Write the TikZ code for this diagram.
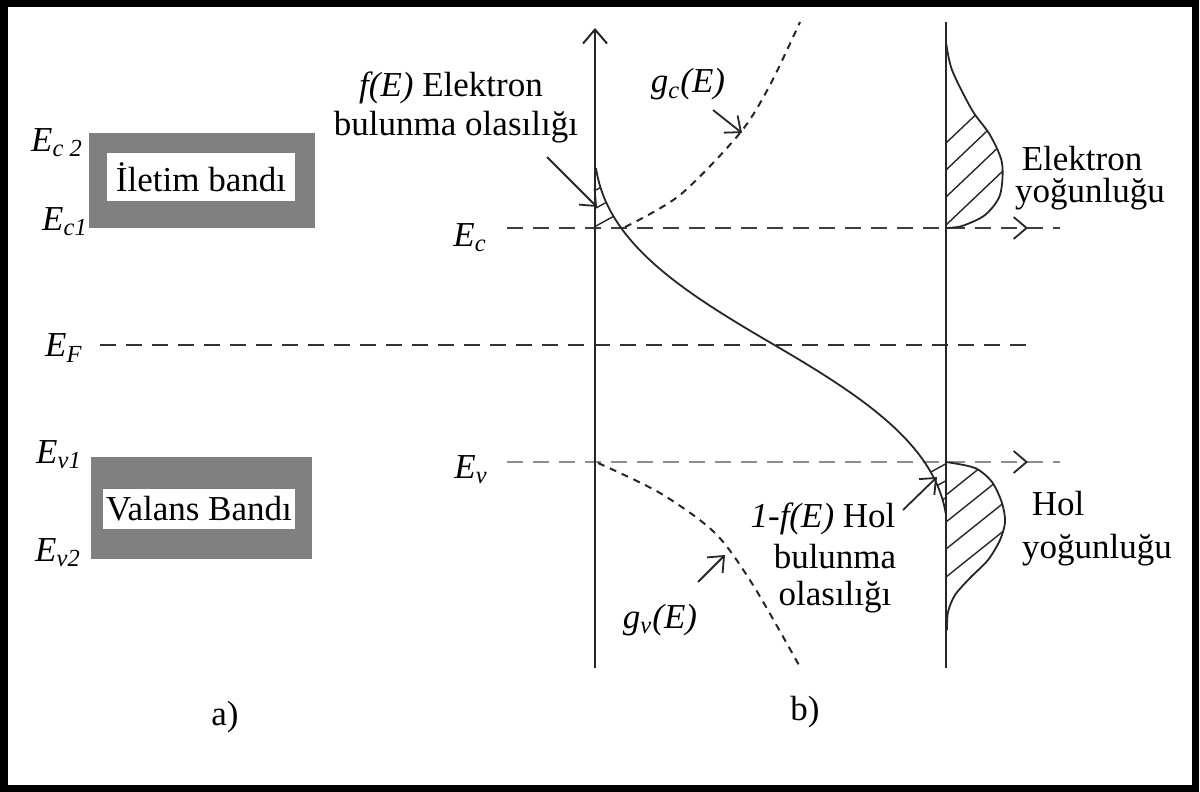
\documentclass[tikz,border=0pt]{standalone}
\usepackage{fontspec}
\setmainfont{Liberation Serif}
\usetikzlibrary{arrows.meta}
\definecolor{boxgray}{HTML}{808080}
\begin{document}
\begin{tikzpicture}[x=0.5pt,y=-0.5pt,
  lbl/.style={font=\fontsize{17.5}{19}\selectfont, inner sep=0pt},
  axis/.style={line width=1pt, black!85},
  lev/.style={line width=1.4pt, dash pattern=on 8pt off 5pt},
  dens/.style={line width=1pt, dash pattern=on 3.5pt off 3pt, black!85},
  barb/.style={-{Straight Barb[length=6.5pt,width=11pt]}, line width=0.9pt, black!85},
  curve/.style={line width=0.9pt, black!85},
  hatch/.style={line width=0.7pt, black!85}]
\useasboundingbox (0,0) rectangle (1200,792);
% frame
\draw[line width=3.5pt] (4,3.5) rectangle (1195,788.5);

% ---------- panel a ----------
\fill[boxgray] (89,133) rectangle (315,228);
\fill[white] (107,153) rectangle (295,201);
\node[lbl] (cband) at (201,177) {İletim bandı};
\fill[boxgray] (91,457) rectangle (312,559);
\fill[white] (103,489) rectangle (295,529);
\node[lbl] (vband) at (199,509) {Valans Bandı};

\node[lbl] (ec2) at (57,143) {\textit{E}\textsubscript{\textit{c 2}}};
\node[lbl] (ec1) at (65,222) {\textit{E}\textsubscript{\textit{c1}}};
\node[lbl] (ef)  at (64,348) {\textit{E}\textsubscript{\textit{F}}};
\node[lbl] (ev1) at (59,455) {\textit{E}\textsubscript{\textit{v1}}};
\node[lbl] (ev2) at (58,553) {\textit{E}\textsubscript{\textit{v2}}};
\node[lbl] (la) at (225,717) {a)};
\node[lbl] (lb) at (805,712) {b)};

% ---------- panel b ----------
% level lines
\draw[lev, black!80] (100,345) -- (1030,345);
\draw[lev, black!75] (507,228) -- (1060,228);
\draw[lev, black!45] (507,462) -- (1060,462);
\coordinate (ecA) at (1028,228);
\coordinate (evA) at (1028,462);
\draw[barb] ([xshift=-1pt]ecA) -- (ecA);
\draw[barb] ([xshift=-1pt]evA) -- (evA);
\node[lbl] (ec) at (470,238) {\textit{E}\textsubscript{\textit{c}}};
\node[lbl] (ev) at (471,470) {\textit{E}\textsubscript{\textit{v}}};

% axes
\coordinate (axL0) at (595,668);
\coordinate (axL1) at (595,28);
\coordinate (axR0) at (946,668);
\coordinate (axR1) at (946,22);
\draw[axis, -{Straight Barb[length=7pt,width=12pt]}] (axL0) -- (axL1);
\draw[axis] (axR0) -- (axR1);

% Fermi function
\draw[curve] (596,168) .. controls (607,242) and (680,290) .. (771,343)
  .. controls (862,396) and (935,444) .. (946,515);
% small hatching under f(E) near Ec
\begin{scope}
  \clip (596,168) .. controls (607,242) and (680,290) .. (771,343) -- (596,343) -- cycle;
  \clip (590,160) rectangle (640,228);
  \foreach \yy in {190,208,226} \draw[hatch] (596,\yy) -- ++(40,-22);
\end{scope}
% small hatching near Ev
\begin{scope}
  \clip (771,343) .. controls (862,396) and (935,444) .. (946,515) -- (946,343) -- cycle;
  \clip (900,462) rectangle (946,520);
  \foreach \yy in {478,495,512} \draw[hatch] (920,\yy) -- ++(40,-22);
\end{scope}

% densities of states
\draw[dens] plot[smooth] coordinates {(625,227) (680,195) (740,133) (770,85) (800,22)};
\draw[dens] plot[smooth] coordinates {(598,463) (660,493) (715,533) (753,585) (800,667)};

% electron density
\draw[curve] plot[smooth] coordinates {(946,42) (952,70) (972,110) (990,135) (1002,163) (1000,195) (985,215) (962,226) (946,228)};
\begin{scope}
  \clip plot[smooth] coordinates {(946,42) (952,70) (972,110) (990,135) (1002,163) (1000,195) (985,215) (962,226) (946,228)} -- cycle;
  \foreach \yy in {143,170,197,225} \draw[hatch] (946,\yy) -- ++(80,-76);
\end{scope}

% hole density
\draw[curve] plot[smooth] coordinates {(946,462) (975,468) (992,482) (1002,503) (1005,522) (1000,540) (988,560) (970,578) (955,595) (948,612) (947,630)};
\begin{scope}
  \clip plot[smooth] coordinates {(946,462) (975,468) (992,482) (1002,503) (1005,522) (1000,540) (988,560) (970,578) (955,595) (948,612) (947,630)} -- cycle;
  \foreach \yy in {495,522,549,577} \draw[hatch] (946,\yy) -- ++(80,-64);
\end{scope}

% labels
\node[lbl, anchor=base] (fl1) at (451,97) {\textit{f(E)} Elektron};
\node[lbl, anchor=base] (fl2) at (456,136) {bulunma olasılığı};
\coordinate (fa0) at (547,157);
\coordinate (fa1) at (597,207);
\draw[barb] (fa0) -- (fa1);

\node[lbl, anchor=base] (gcl) at (688,93) {\textit{g\textsubscript{c}(E)}};
\coordinate (gc0) at (713,110);
\coordinate (gc1) at (742,133);
\draw[barb] (gc0) -- (gc1);

\node[lbl, anchor=base] (gvl) at (660,628) {\textit{g\textsubscript{v}(E)}};
\coordinate (gv0) at (698,582);
\coordinate (gv1) at (725,555);
\draw[barb] (gv0) -- (gv1);

\node[lbl, anchor=base] (hl1) at (823,527) {\textit{1-f(E)} Hol};
\node[lbl, anchor=base] (hl2) at (835,568) {bulunma};
\node[lbl, anchor=base] (hl3) at (835,605) {olasılığı};
\coordinate (ha0) at (903,510);
\coordinate (ha1) at (937,477);
\draw[barb] (ha0) -- (ha1);

\node[lbl, anchor=base] (el1) at (1082,170) {Elektron};
\node[lbl, anchor=base] (el2) at (1090,202) {yoğunluğu};
\node[lbl, anchor=base] (ho1) at (1058,515) {Hol};
\node[lbl, anchor=base] (ho2) at (1097,558) {yoğunluğu};
\end{tikzpicture}
\end{document}
